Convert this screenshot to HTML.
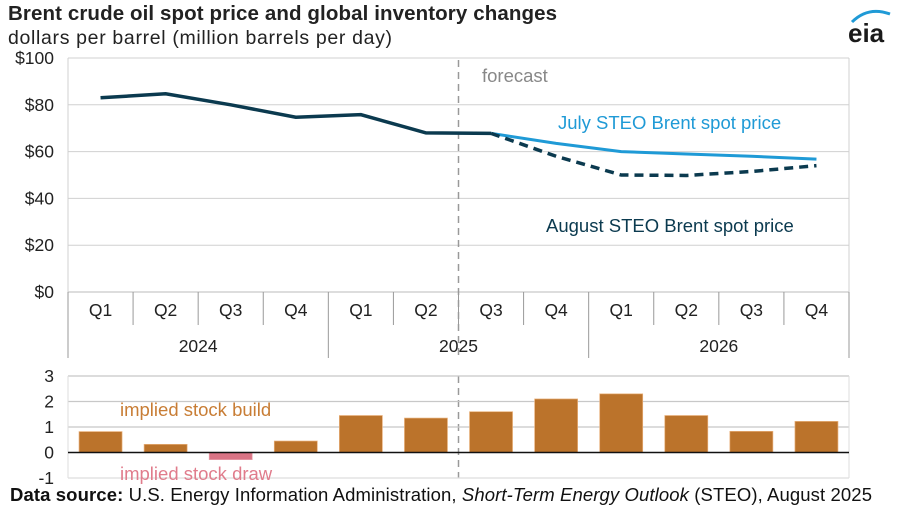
<!DOCTYPE html>
<html><head><meta charset="utf-8"><style>
body{margin:0;background:#fff;font-family:"Liberation Sans",Arial,sans-serif}
svg text{font-family:"Liberation Sans",Arial,sans-serif}
</style></head><body>
<svg id="c" width="900" height="517">
<text x="8" y="20" font-size="20.5" font-weight="bold" fill="#222" textLength="549">Brent crude oil spot price and global inventory changes</text>
<text x="8" y="44" font-size="19.5" fill="#222" textLength="384">dollars per barrel (million barrels per day)</text>
<g>
<text x="848" y="42" font-size="26" fill="#1a1a1a" font-weight="bold">eia</text>
<path d="M852 22 Q868 6 890 14" stroke="#1f9ad6" stroke-width="3" fill="none"/>
</g>
<g id="topg"></g><g id="botg"></g>
<text x="10" y="501" font-size="18.5" fill="#111" textLength="862"><tspan font-weight="bold">Data source:</tspan> U.S. Energy Information Administration, <tspan font-style="italic">Short-Term Energy Outlook</tspan> (STEO), August 2025</text>
</svg>
<script>
const quarters=["Q1","Q2","Q3","Q4","Q1","Q2","Q3","Q4","Q1","Q2","Q3","Q4"];
const years=["2024","2025","2026"];
const augustPrice=[83,84.7,80,74.7,75.8,68,67.8,58,50,49.8,51.5,54];
const julyPrice=[null,null,null,null,null,null,67.8,63.5,60,59,58,56.8];
const stockChange=[0.82,0.32,-0.28,0.45,1.45,1.35,1.6,2.1,2.3,1.45,0.83,1.22];
const priceTicks=[0,20,40,60,80,100];
const stockTicks=[-1,0,1,2,3];
const NS="http://www.w3.org/2000/svg";
const L=68,R=849,cw=(R-L)/12;
const x=i=>L+cw*(i+0.5);
const yp=v=>292-v*2.34;
const ys=v=>452.5-v*25.5;
function mk(p,t,a,n){const e=document.createElementNS(NS,t);for(const k in a)e.setAttribute(k,a[k]);p.appendChild(e);return e;}
const tg=document.getElementById('topg'),bg=document.getElementById('botg');
const FS=17.5,LS=18.5;
priceTicks.forEach(v=>{mk(tg,'line',{x1:L,x2:R,y1:yp(v),y2:yp(v),stroke:v==0?'#bbb':'#d0d0d0','stroke-width':1},'price-gridline');
const t=mk(tg,'text',{x:54,y:yp(v)+6,'text-anchor':'end','font-size':FS,fill:'#222'},'price-tick-label');t.textContent='$'+v;});
mk(tg,'line',{x1:L,x2:L,y1:yp(100),y2:292,stroke:'#d0d0d0'},'plot-left-border');
mk(tg,'line',{x1:R,x2:R,y1:yp(100),y2:292,stroke:'#d0d0d0'},'plot-right-border');
for(let i=0;i<=12;i++){const xx=L+cw*i;mk(tg,'line',{x1:xx,x2:xx,y1:292,y2:i%4==0?358:325,stroke:'#999'},'category-divider');}
quarters.forEach((q,i)=>{const t=mk(tg,'text',{x:x(i),y:316,'text-anchor':'middle','font-size':FS,fill:'#222'},'quarter-label');t.textContent=q;});
years.forEach((y,i)=>{const t=mk(tg,'text',{x:L+cw*(4*i+2),y:352,'text-anchor':'middle','font-size':FS,fill:'#222'},'year-label');t.textContent=y;});
const fx=L+cw*6;
mk(tg,'line',{x1:fx,x2:fx,y1:60,y2:358,stroke:'#999','stroke-width':1.5,'stroke-dasharray':'7,5'},'forecast-divider');
mk(bg,'line',{x1:fx,x2:fx,y1:376,y2:478,stroke:'#999','stroke-width':1.5,'stroke-dasharray':'7,5'},'forecast-divider-bottom');
let t=mk(tg,'text',{x:482,y:82,'font-size':LS,fill:'#888'},'forecast-label');t.textContent='forecast';
let jp=julyPrice.map((v,i)=>v==null?null:x(i)+','+yp(v)).filter(s=>s).join(' ');
mk(tg,'polyline',{points:jp,fill:'none',stroke:'#1f9ad6','stroke-width':3},'july-steo-line');
let solid=augustPrice.slice(0,7).map((v,i)=>x(i)+','+yp(v)).join(' ');
mk(tg,'polyline',{points:solid,fill:'none',stroke:'#0b3a4f','stroke-width':3.5},'august-steo-history-line');
let dash=augustPrice.slice(6).map((v,i)=>x(i+6)+','+yp(v)).join(' ');
mk(tg,'polyline',{points:dash,fill:'none',stroke:'#0b3a4f','stroke-width':3.5,'stroke-dasharray':'9,6'},'august-steo-forecast-line');
t=mk(tg,'text',{x:558,y:129,'font-size':LS,fill:'#1f9ad6'},'july-series-label');t.textContent='July STEO Brent spot price';
t=mk(tg,'text',{x:546,y:232,'font-size':LS,fill:'#0b3a4f'},'august-series-label');t.textContent='August STEO Brent spot price';
stockTicks.forEach(v=>{if(v!=0)mk(bg,'line',{x1:L,x2:R,y1:ys(v),y2:ys(v),stroke:v==-1?'#ddd':'#c8c8c8','stroke-width':1.3},'stock-gridline');
const t=mk(bg,'text',{x:54,y:ys(v)+6,'text-anchor':'end','font-size':FS,fill:'#222'},'stock-tick-label');t.textContent=v;});
mk(bg,'line',{x1:L,x2:L,y1:ys(3),y2:ys(-1),stroke:'#ddd'},'bottom-left-border');
mk(bg,'line',{x1:R,x2:R,y1:ys(3),y2:ys(-1),stroke:'#ddd'},'bottom-right-border');
const bw=43;
stockChange.forEach((v,i)=>{const y0=ys(Math.max(v,0)),h=Math.abs(ys(v)-ys(0));
mk(bg,'rect',{x:x(i)-bw/2,y:y0,width:bw,height:h,fill:v<0?'#d97485':'#bb732b',stroke:v<0?'#e8a0ac':'#e8b07a','stroke-width':0.7},'stock-bar-'+i);});
mk(bg,'line',{x1:L,x2:R,y1:ys(0),y2:ys(0),stroke:'#111','stroke-width':1.5},'zero-line');
t=mk(bg,'text',{x:120,y:416,'font-size':LS,fill:'#c87d35'},'stock-build-label');t.textContent='implied stock build';
t=mk(bg,'text',{x:120,y:480,'font-size':LS,fill:'#e07c8c'},'stock-draw-label');t.textContent='implied stock draw';
</script>
</body></html>
